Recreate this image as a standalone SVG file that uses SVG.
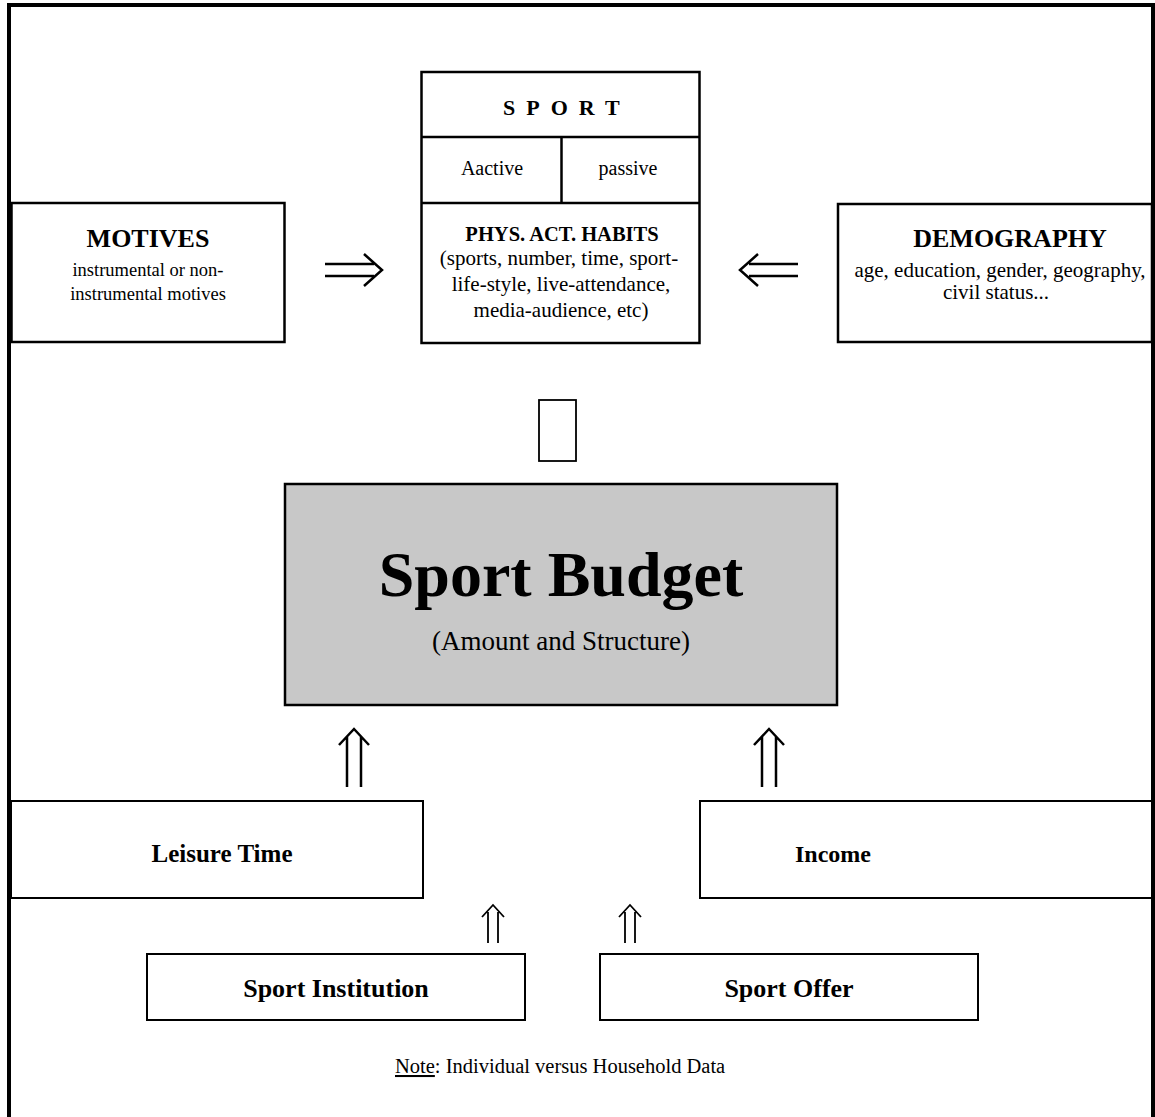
<svg xmlns="http://www.w3.org/2000/svg" width="1155" height="1117" viewBox="0 0 1155 1117">
<style>
.box{fill:#fff;stroke:#000;stroke-width:2.5}
.box2{fill:#fff;stroke:#000;stroke-width:2}
.t{font-family:"Liberation Serif","Times New Roman",serif;fill:#000}
.b{font-weight:bold}
.m{text-anchor:middle}
.arr{fill:none;stroke:#000;stroke-width:2.5;stroke-linecap:butt;stroke-linejoin:miter}
.arrs{fill:none;stroke:#000;stroke-width:1.8}
</style>
<rect width="1155" height="1117" fill="#fff"/>
<path d="M9 1117 V5 H1153 V1117" fill="none" stroke="#000" stroke-width="4"/>

<g id="sport">
<rect class="box" x="421.5" y="72" width="278" height="271"/>
<line x1="421.5" y1="137" x2="699.5" y2="137" stroke="#000" stroke-width="2.5"/>
<line x1="421.5" y1="203" x2="699.5" y2="203" stroke="#000" stroke-width="2.5"/>
<line x1="561.5" y1="137" x2="561.5" y2="203" stroke="#000" stroke-width="2.5"/>
<text class="t b" x="503" y="115" font-size="22" letter-spacing="11">SPORT</text>
<text class="t m" x="492" y="175" font-size="20">Aactive</text>
<text class="t m" x="628" y="175" font-size="20">passive</text>
<text class="t b m" x="562" y="241" font-size="20.5">PHYS. ACT. HABITS</text>
<text class="t m" x="559" y="265" font-size="21">(sports, number, time, sport-</text>
<text class="t m" x="561" y="291" font-size="21">life-style, live-attendance,</text>
<text class="t m" x="561" y="317" font-size="21">media-audience, etc)</text>
</g>

<g id="motives">
<rect class="box" x="11.5" y="203" width="273" height="139"/>
<text class="t b m" x="148" y="247" font-size="26">MOTIVES</text>
<text class="t m" x="148" y="276" font-size="18.5">instrumental or non-</text>
<text class="t m" x="148" y="300" font-size="18.5">instrumental motives</text>
</g>

<g id="demography">
<rect class="box" x="838" y="204" width="314" height="138"/>
<text class="t b m" x="1010" y="247" font-size="26">DEMOGRAPHY</text>
<text class="t m" x="1000" y="277" font-size="21">age, education, gender, geography,</text>
<text class="t m" x="996" y="299" font-size="21">civil status...</text>
</g>

<g id="missing-glyph">
<rect x="539" y="400" width="37" height="61" fill="none" stroke="#000" stroke-width="1.8"/>
</g>

<g id="budget">
<rect x="285" y="484" width="552" height="221" fill="#c8c8c8" stroke="#000" stroke-width="2.5"/>
<text class="t b m" x="561" y="596" font-size="64">Sport Budget</text>
<text class="t m" x="561" y="650" font-size="27">(Amount and Structure)</text>
</g>

<g id="leisure">
<rect class="box2" x="11" y="801" width="412" height="97"/>
<text class="t b m" x="222" y="862" font-size="25">Leisure Time</text>
</g>

<g id="income">
<rect class="box2" x="700" y="801" width="452" height="97"/>
<text class="t b m" x="833" y="862" font-size="24">Income</text>
</g>

<g id="institution">
<rect class="box2" x="147" y="954" width="378" height="66"/>
<text class="t b m" x="336" y="997" font-size="26">Sport Institution</text>
</g>

<g id="offer">
<rect class="box2" x="600" y="954" width="378" height="66"/>
<text class="t b m" x="789" y="997" font-size="26">Sport Offer</text>
</g>

<g id="note">
<text class="t" x="395" y="1073" font-size="20.5"><tspan text-decoration="underline">Note</tspan>: Individual versus Household Data</text>
</g>

<g id="connectors">
<path class="arr" d="M325 264 H374 M325 276 H374 M364 254 L382 270 L364 286"/>
<path class="arr" d="M798 264 H749 M798 276 H749 M758 254 L740 270 L758 286"/>
<path class="arr" d="M347 787 V737 M361 787 V737 M339 745 L354 729 L369 745"/>
<path class="arr" d="M762 787 V737 M776 787 V737 M754 745 L769 729 L784 745"/>
<path class="arrs" d="M488 943 V912 M498 943 V912 M482 917 L493 905 L504 917"/>
<path class="arrs" d="M625 943 V912 M635 943 V912 M619 917 L630 905 L641 917"/>
</g>
</svg>
